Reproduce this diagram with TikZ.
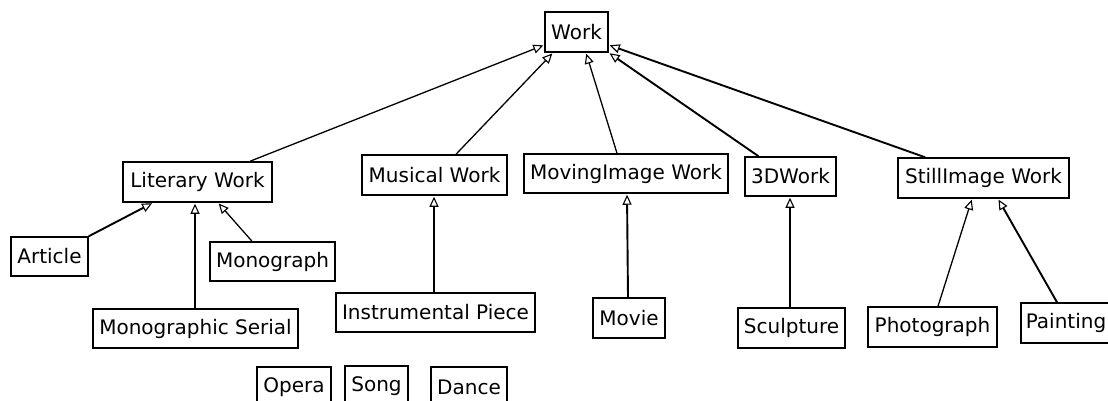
\documentclass[tikz,border=0pt]{standalone}
\usepackage{fontspec}
\setmainfont{DejaVu Sans}
\usetikzlibrary{arrows.meta}
\tikzset{
  box/.style={draw, line width=1.5pt, inner sep=0pt, font=\fontsize{20}{22}\selectfont},
  gen/.style={-{Triangle[open, length=10pt, width=9pt, line width=1.1pt]}, line width=1.3pt, shorten >=1pt},
  genthick/.style={gen, line width=1.9pt}
}
\begin{document}
\begin{tikzpicture}[x=1pt, y=-1pt]
\useasboundingbox (0,0) rectangle (1108,401);
% nodes
\node[box, minimum width=63pt, minimum height=40pt] (work) at (576.5,32) {Work};
\node[box, minimum width=149pt, minimum height=40pt] (lit) at (197.5,182) {Literary Work};
\node[box, minimum width=77pt, minimum height=39pt] (art) at (49.5,256.5) {Article};
\node[box, minimum width=125pt, minimum height=39pt] (mono) at (272.5,261.5) {Monograph};
\node[box, minimum width=205pt, minimum height=39pt] (serial) at (195.5,328.5) {Monographic Serial};
\node[box, minimum width=145pt, minimum height=40pt] (mus) at (434.5,175) {Musical Work};
\node[box, minimum width=199pt, minimum height=39pt] (inst) at (435.5,312.5) {Instrumental Piece};
\node[box, minimum width=204pt, minimum height=39pt] (mov) at (626,173.5) {MovingImage Work};
\node[box, minimum width=72pt, minimum height=40pt] (movie) at (629,318) {Movie};
\node[box, minimum width=91pt, minimum height=39pt] (tdw) at (790.5,176.5) {3DWork};
\node[box, minimum width=107pt, minimum height=40pt] (sculp) at (791.5,328) {Sculpture};
\node[box, minimum width=171pt, minimum height=40pt] (still) at (983.5,178) {StillImage Work};
\node[box, minimum width=129pt, minimum height=40pt] (photo) at (932.5,327) {Photograph};
\node[box, minimum width=90pt, minimum height=40pt] (paint) at (1066,323) {Painting};
\node[box, minimum width=74pt, minimum height=40pt] (opera) at (294,387) {Opera};
\node[box, minimum width=63pt, minimum height=40pt] (song) at (376.5,386) {Song};
\node[box, minimum width=76pt, minimum height=40pt] (dance) at (469,387) {Dance};
% generalizations to Work
\draw[gen] ([xshift=52.5pt]lit.north) -- ([yshift=-13pt]work.west);
\draw[gen] ([xshift=21.5pt]mus.north) -- ([xshift=-23.5pt]work.south);
\draw[gen] ([xshift=-9pt]mov.north) -- ([xshift=9.5pt]work.south);
\draw[genthick] ([xshift=-32pt]tdw.north) -- (work.south east);
\draw[genthick] ([xshift=-58.5pt]still.north) -- ([yshift=-13pt]work.east);
% Literary Work children
\draw[genthick] (art.north east) -- ([xshift=-44.5pt]lit.south);
\draw[genthick] ([xshift=-0.5pt]serial.north) -- ([xshift=-2.5pt]lit.south);
\draw[gen] ([xshift=-20.5pt]mono.north) -- ([xshift=20.5pt]lit.south);
% others
\draw[genthick] ([xshift=-1.5pt]inst.north) -- ([xshift=-0.5pt]mus.south);
\draw[genthick] ([xshift=-1pt]movie.north) -- ([xshift=1pt]mov.south);
\draw[genthick] ([xshift=-1.5pt]sculp.north) -- ([xshift=-0.5pt]tdw.south);
\draw[gen] ([xshift=5.5pt]photo.north) -- ([xshift=-11.5pt]still.south);
\draw[genthick] ([xshift=-9pt]paint.north) -- ([xshift=14.5pt]still.south);
\end{tikzpicture}
\end{document}
